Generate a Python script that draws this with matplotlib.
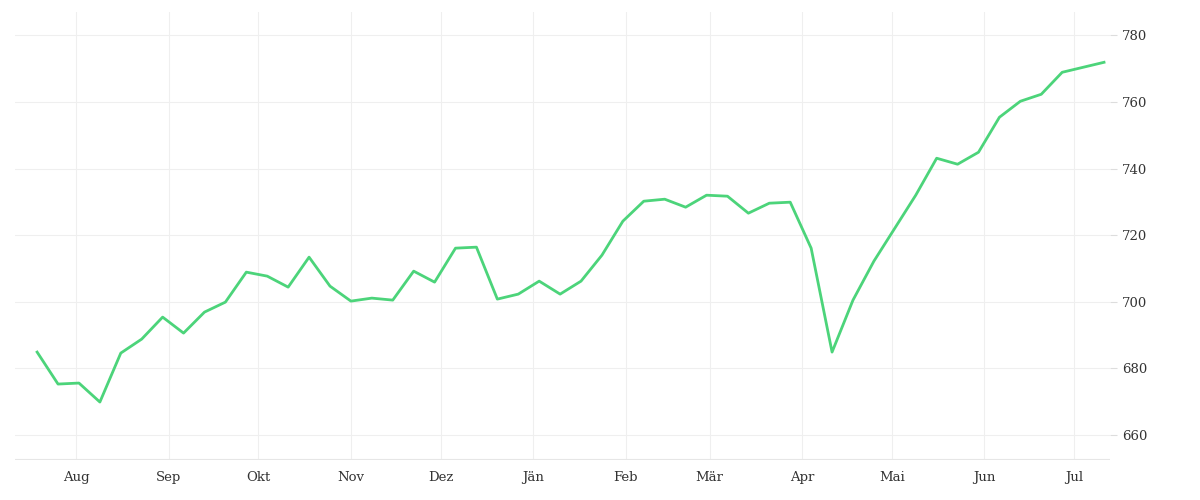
import matplotlib
matplotlib.use("Agg")
import matplotlib.pyplot as plt
import pandas as pd

dates = pd.date_range("2022-07-19", periods=52, freq="7D")
values = [684.9,675.3,675.6,669.9,684.6,688.8,695.4,690.6,696.9,699.9,708.9,707.7,
          704.4,713.4,704.7,700.2,701.1,700.5,709.2,705.9,716.1,716.4,700.8,702.3,
          706.2,702.3,706.2,714.0,724.2,730.2,730.8,728.4,732.0,731.7,726.6,729.6,
          729.9,716.1,684.9,700.5,712.2,722.1,732.0,743.1,741.3,744.9,755.4,760.2,
          762.3,768.9,770.4,771.9]
month_labels = ["Aug","Sep","Okt","Nov","Dez","Jän","Feb","Mär","Apr","Mai","Jun","Jul"]
month_ticks = pd.date_range("2022-08-01", periods=12, freq="MS")
yticks = [660,680,700,720,740,760,780]

fig = plt.figure(figsize=(12,5), dpi=100)
ax = fig.add_axes([15/1200, 40/500, 1095/1200, 448/500])
ax.plot(dates, values, color="#4cd47a", lw=2.0)
ax.set_xlim(dates[0]-pd.Timedelta(days=7.4), dates[-1]+pd.Timedelta(days=2))
ax.set_ylim(652.5, 787)
ax.set_xticks(month_ticks)
ax.set_xticklabels(month_labels)
ax.set_yticks(yticks)
ax.yaxis.tick_right()
for s in ax.spines.values():
    s.set_visible(False)
ax.grid(True, color="#efefef", lw=0.8)
ax.axhline(652.5+0.3, color="#e6e6e6", lw=0.8)
ax.tick_params(axis="both", colors="#dddddd", labelcolor="#333333", labelsize=9.5, length=5)
ax.tick_params(axis="x", length=0, pad=8)
for lab in ax.get_xticklabels()+ax.get_yticklabels():
    lab.set_family("DejaVu Serif")
fig.savefig("out.png")
